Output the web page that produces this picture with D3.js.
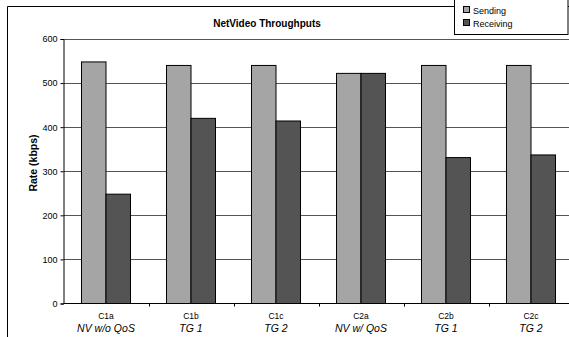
<!DOCTYPE html>
<html>
<head>
<meta charset="utf-8">
<script src="https://cdn.jsdelivr.net/npm/d3@7"></script>
<style>
  body { margin: 0; background: #fff; }
  svg { display: block; font-family: "Liberation Sans", Arial, sans-serif; }
</style>
</head>
<body>
<div id="app"></div>
<script>
// chart data
const categories = ["C1a", "C1b", "C1c", "C2a", "C2b", "C2c"]
const subLabels = ["NV w/o QoS", "TG 1", "TG 2", "NV w/ QoS", "TG 1", "TG 2"]
const seriesNames = ["Sending", "Receiving"]
const sending = [548, 540, 540, 522, 540, 540]
const receiving = [248, 420, 414, 522, 331, 337]
const yTicks = [0, 100, 200, 300, 400, 500, 600]

const width = 569, height = 337
const plotLeft = 63.5, plotTop = 39, plotBottom = 303.5
const step = 85
const colors = ["#a5a5a5", "#545454"]

const svg = d3.select("#app")
  .append("svg")
  .attr("width", width)
  .attr("height", height)

// outer frame (left + top, the rest is cut by the picture edge)
svg.append("path")
  .attr("d", `M7.5,${height} V6.5 H${width}`)
  .attr("fill", "none")
  .attr("stroke", "#000")
  .attr("stroke-width", 1)

const x0 = d3.scaleBand()
  .domain(categories)
  .range([plotLeft, plotLeft + step * categories.length])
  .padding(0)

const x1 = d3.scaleBand()
  .domain(seriesNames)
  .range([0, x0.bandwidth()])
  .paddingInner(0)
  .paddingOuter(0.735)

const y = d3.scaleLinear()
  .domain([0, 600])
  .range([plotBottom, plotTop])

// gridlines
svg.append("g")
  .selectAll("line")
  .data(yTicks.filter(d => d > 0))
  .enter()
  .append("line")
  .attr("x1", plotLeft)
  .attr("x2", width)
  .attr("y1", d => Math.round(y(d)) + 0.5)
  .attr("y2", d => Math.round(y(d)) + 0.5)
  .attr("stroke", "#555")
  .attr("stroke-width", 1)

// bars
const rows = categories.map((c, i) => ({ cat: c, values: [sending[i], receiving[i]] }))

svg.append("g")
  .selectAll("g")
  .data(rows)
  .enter()
  .append("g")
  .attr("transform", d => `translate(${x0(d.cat)},0)`)
  .selectAll("rect")
  .data(d => d.values.map((v, j) => ({ key: seriesNames[j], value: v, j: j })))
  .enter()
  .append("rect")
  .attr("x", d => x1(d.key))
  .attr("y", d => y(d.value))
  .attr("width", x1.bandwidth())
  .attr("height", d => y(0) - y(d.value))
  .attr("fill", d => colors[d.j])
  .attr("stroke", "#000")
  .attr("stroke-width", 1)

// y axis
const yAxis = d3.axisLeft(y)
  .tickValues(yTicks)
  .tickSize(3)
  .tickPadding(3)

svg.append("g")
  .attr("transform", `translate(${plotLeft},0)`)
  .call(yAxis)
  .call(g => g.select(".domain").attr("stroke", "#000"))
  .call(g => g.selectAll("text").attr("font-size", 9).attr("fill", "#000").attr("font-family", "Liberation Sans, Arial, sans-serif"))

// x axis line + ticks at band edges
svg.append("line")
  .attr("x1", plotLeft)
  .attr("x2", width)
  .attr("y1", plotBottom)
  .attr("y2", plotBottom)
  .attr("stroke", "#000")

svg.append("g")
  .selectAll("line")
  .data(categories)
  .enter()
  .append("line")
  .attr("x1", d => Math.round(x0(d) + step) + 0.5)
  .attr("x2", d => Math.round(x0(d) + step) + 0.5)
  .attr("y1", plotBottom)
  .attr("y2", plotBottom + 3)
  .attr("stroke", "#000")

// category labels
const labels = svg.append("g")
  .selectAll("g")
  .data(categories)
  .enter()
  .append("g")
  .attr("transform", d => `translate(${x0(d) + step / 2},0)`)

labels.append("text")
  .attr("y", 319)
  .attr("text-anchor", "middle")
  .attr("font-size", 8.5)
  .text(d => d)

labels.append("text")
  .attr("y", 332)
  .attr("text-anchor", "middle")
  .attr("font-size", 10.5)
  .attr("font-style", "italic")
  .text((d, i) => subLabels[i])

// title
svg.append("text")
  .attr("x", 267)
  .attr("y", 27)
  .attr("text-anchor", "middle")
  .attr("font-size", 10)
  .attr("font-weight", "bold")
  .text("NetVideo Throughputs")

// y label
svg.append("text")
  .attr("transform", "translate(37,163) rotate(-90)")
  .attr("text-anchor", "middle")
  .attr("font-size", 10.5)
  .attr("font-weight", "bold")
  .text("Rate (kbps)")

// legend
const legend = svg.append("g")

legend.append("rect")
  .attr("x", 454.5)
  .attr("y", -1)
  .attr("width", 113.5)
  .attr("height", 35.5)
  .attr("fill", "#fff")
  .attr("stroke", "#000")

const items = legend.selectAll("g")
  .data(seriesNames)
  .enter()
  .append("g")
  .attr("transform", (d, i) => `translate(463,${10 + i * 13})`)

items.append("rect")
  .attr("x", 0.5)
  .attr("y", -3.5)
  .attr("width", 6)
  .attr("height", 6)
  .attr("fill", (d, i) => colors[i])
  .attr("stroke", "#000")

items.append("text")
  .attr("x", 10)
  .attr("y", 3.5)
  .attr("font-size", 9)
  .text(d => d)
</script>
</body>
</html>
